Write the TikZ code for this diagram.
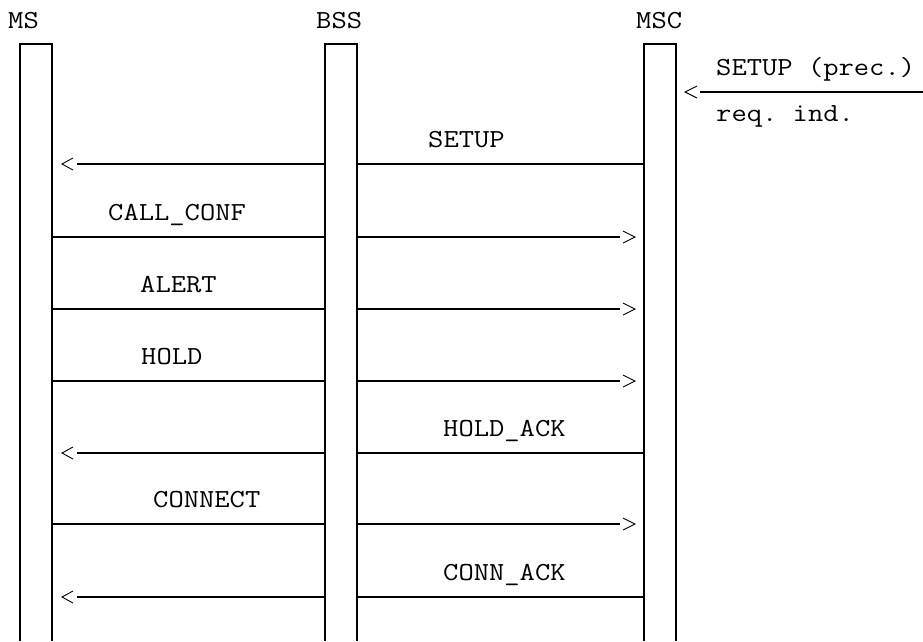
\documentclass[tikz,border=0pt]{standalone}
\usepackage{fontspec}
\setmonofont{Latin Modern Mono}[FakeStretch=1.143]
\usepackage{tikz}
\usetikzlibrary{calc}
\tikzset{
  lifeline/.style={line width=1.5pt},
  msg/.style={line width=2.6pt},
  chev/.style={line width=0.9pt, line join=miter},
  lbl/.style={font=\ttfamily\fontsize{26pt}{26pt}\selectfont, anchor=base west, inner sep=0pt},
}

\begin{document}
\begin{tikzpicture}[x=1pt, y=-1pt]
    \useasboundingbox (0,0) rectangle (923,641);
    % lifelines
    \foreach \n/\xl/\xt/\t in {ms/20/8/MS, bss/325/316/BSS, msc/644/636/MSC} {
        \coordinate (\n L) at (\xl,0);
        \coordinate (\n R) at (\xl+32,0);
        \draw[lifeline] (\xl,641) -- (\xl,44) -- (\xl+32,44) -- (\xl+32,641);
        \node[lbl] (\n) at (\xt,28) {\t};
    }
    \foreach \r/\y in {1/92,2/164,3/237,4/309,5/381,6/453,7/524,8/597}
        \coordinate (row\r) at (0,\y);
    % incoming at MSC
    \coordinate (env) at (923,92);
    \draw[msg] (env) -- ($(mscR |- row1)+(24,0)$);
    \draw[chev] ($(mscR |- row1)+(21,-6)$) -- ++(-12,6) -- ++(12,6);
    \node[lbl] (setupprec) at (716,75) {SETUP (prec.)};
    \node[lbl] (reqind) at (716,121) {req. ind.};
    % MS -> MSC
    \foreach \r in {3,4,5,7} {
        \draw[msg] (msR |- row\r) -- (bssL |- row\r);
        \draw[msg] (bssR |- row\r) -- ($(mscL |- row\r)+(-24,0)$);
        \draw[chev] ($(mscL |- row\r)+(-21,-6)$) -- ++(12,6) -- ++(-12,6);
    }
    % MSC -> MS
    \foreach \r in {2,6,8} {
        \draw[msg] (mscL |- row\r) -- (bssR |- row\r);
        \draw[msg] (bssL |- row\r) -- ($(msR |- row\r)+(25,0)$);
        \draw[chev] ($(msR |- row\r)+(21,-6)$) -- ++(-11,6) -- ++(11,6);
    }
    % labels
    \foreach \nm/\x/\y/\t in {setup/428/147/SETUP, callconf/108/220/CALL\_CONF,
                             alert/140/292/ALERT, hold/141/364/HOLD,
                             holdack/443/436/HOLD\_ACK, connect/153/507/CONNECT,
                             connack/443/580/CONN\_ACK}
        \node[lbl] (\nm) at (\x,\y) {\t};
\end{tikzpicture}
\end{document}
